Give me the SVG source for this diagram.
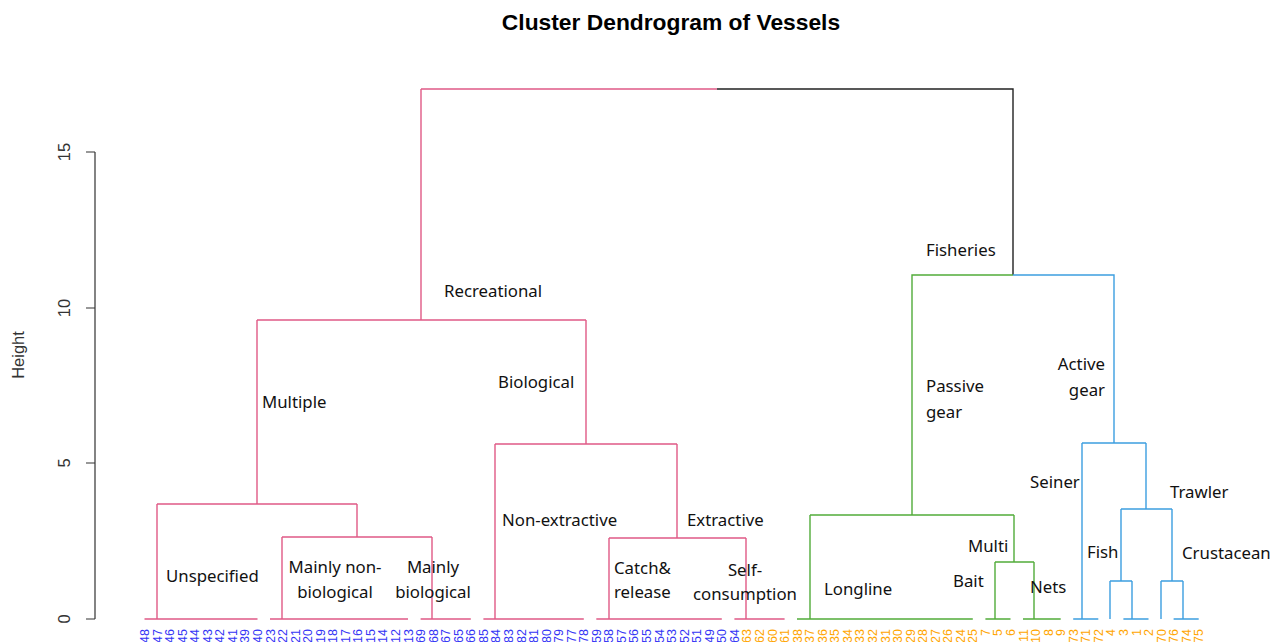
<svg xmlns="http://www.w3.org/2000/svg" width="1275" height="642" viewBox="0 0 1275 642">
<style>
.pk{stroke:#E05A86;stroke-width:1.4;fill:none}
.gn{stroke:#52AC3A;stroke-width:1.4;fill:none}
.bl{stroke:#3C9EE0;stroke-width:1.4;fill:none}
.bk{stroke:#222;stroke-width:1.4;fill:none}
.ax{stroke:#333;stroke-width:1.2;fill:none}
.tk{font-family:"Liberation Sans",Arial,sans-serif;font-size:16.5px;fill:#333;text-anchor:middle}
.lb{font-family:"Noto Sans","Open Sans",sans-serif;font-size:16.8px;fill:#111}
.lc{text-anchor:middle}
.le{text-anchor:end}
.lf{font-family:"Liberation Sans",Arial,sans-serif;font-size:12.5px;text-anchor:end}
.lfb{fill:#3535F5}
.lfo{fill:#FFA500}
</style>
<rect width="1275" height="642" fill="#fff"/>
<g id="title"><text x="671" y="30" font-family="Liberation Sans,Arial,sans-serif" font-size="22.8" font-weight="bold" text-anchor="middle" fill="#000">Cluster Dendrogram of Vessels</text></g>
<g id="axis">
<path class="ax" d="M95,152V619M86,152H95M86,308H95M86,463H95M86,619H95"/>
<text class="tk" transform="translate(70,619) rotate(-90)">0</text>
<text class="tk" transform="translate(70,463) rotate(-90)">5</text>
<text class="tk" transform="translate(70,308) rotate(-90)">10</text>
<text class="tk" transform="translate(70,152) rotate(-90)">15</text>
<text class="tk" transform="translate(24,355) rotate(-90)">Height</text>
</g>
<g id="connectors">
<path class="pk" d="M144.5,619H257.5M270,619H408M420.6,619H470.8M483.4,619H583.8M596.3,619H721.8M734.4,619H784.6"/>
<path class="pk" d="M157,619V504M282,619V537M432,619V537M282,537H432M357,537V504M157,504H357M257,504V320"/>
<path class="pk" d="M495,619V444M609,619V538M746,619V538M609,538H746M677,538V444M495,444H677M586,444V320"/>
<path class="pk" d="M257,320H586M421,320V89M421,89H717"/>
<path class="bk" d="M717,89H1013V275"/>
<path class="gn" d="M797,619H972.8M985.4,619H1010.5M1023,619H1060.7"/>
<path class="gn" d="M1013,275H912V515M810,515H1014M810,619V515M1014,515V562M995,562H1034M995,619V562M1034,619V562"/>
<path class="bl" d="M1073.2,619H1098.3M1123.4,619H1148.5M1173.6,619H1198.7"/>
<path class="bl" d="M1013,275H1114V443M1082,443H1146M1082,619V443M1146,443V509M1121,509H1172M1121,509V581M1172,509V581M1110,581H1132M1110,619V581M1132,619V581M1161,581H1183M1161,619V581M1183,619V581"/>
</g>
<g id="n-recreational"><text class="lb" x="444" y="297">Recreational</text></g>
<g id="n-fisheries"><text class="lb" x="926" y="256">Fisheries</text></g>
<g id="n-multiple"><text class="lb" x="262" y="408">Multiple</text></g>
<g id="n-biological"><text class="lb" x="498" y="388">Biological</text></g>
<g id="n-passive"><text class="lb" x="926" y="392">Passive</text><text class="lb" x="926" y="418">gear</text></g>
<g id="n-active"><text class="lb le" x="1105" y="370">Active</text><text class="lb le" x="1105" y="396">gear</text></g>
<g id="n-seiner"><text class="lb" x="1030" y="488">Seiner</text></g>
<g id="n-trawler"><text class="lb" x="1170" y="498">Trawler</text></g>
<g id="n-unspecified"><text class="lb" x="166" y="582">Unspecified</text></g>
<g id="n-mainly-nonbio"><text class="lb lc" x="335" y="573">Mainly non-</text><text class="lb lc" x="335" y="598">biological</text></g>
<g id="n-mainly-bio"><text class="lb lc" x="433" y="573">Mainly</text><text class="lb lc" x="433" y="598">biological</text></g>
<g id="n-nonextractive"><text class="lb" x="502" y="526">Non-extractive</text></g>
<g id="n-extractive"><text class="lb" x="687" y="526">Extractive</text></g>
<g id="n-catch"><text class="lb" x="614" y="574">Catch&amp;</text><text class="lb" x="614" y="598">release</text></g>
<g id="n-self"><text class="lb lc" x="745" y="576">Self-</text><text class="lb lc" x="745" y="600">consumption</text></g>
<g id="n-longline"><text class="lb" x="824" y="595">Longline</text></g>
<g id="n-multi"><text class="lb" x="968" y="552">Multi</text></g>
<g id="n-bait"><text class="lb" x="953" y="587">Bait</text></g>
<g id="n-nets"><text class="lb" x="1030" y="593">Nets</text></g>
<g id="n-fish"><text class="lb" x="1087" y="558">Fish</text></g>
<g id="n-crustacean"><text class="lb" x="1182" y="559">Crustacean</text></g>
<g id="leaves">
<text class="lf lfb" transform="translate(149,629) rotate(-90)">48</text>
<text class="lf lfb" transform="translate(161.5,629) rotate(-90)">47</text>
<text class="lf lfb" transform="translate(174.1,629) rotate(-90)">46</text>
<text class="lf lfb" transform="translate(186.6,629) rotate(-90)">45</text>
<text class="lf lfb" transform="translate(199.2,629) rotate(-90)">44</text>
<text class="lf lfb" transform="translate(211.7,629) rotate(-90)">43</text>
<text class="lf lfb" transform="translate(224.3,629) rotate(-90)">42</text>
<text class="lf lfb" transform="translate(236.8,629) rotate(-90)">41</text>
<text class="lf lfb" transform="translate(249.4,629) rotate(-90)">39</text>
<text class="lf lfb" transform="translate(261.9,629) rotate(-90)">40</text>
<text class="lf lfb" transform="translate(274.5,629) rotate(-90)">23</text>
<text class="lf lfb" transform="translate(287.0,629) rotate(-90)">22</text>
<text class="lf lfb" transform="translate(299.6,629) rotate(-90)">21</text>
<text class="lf lfb" transform="translate(312.1,629) rotate(-90)">20</text>
<text class="lf lfb" transform="translate(324.7,629) rotate(-90)">19</text>
<text class="lf lfb" transform="translate(337.2,629) rotate(-90)">18</text>
<text class="lf lfb" transform="translate(349.8,629) rotate(-90)">17</text>
<text class="lf lfb" transform="translate(362.3,629) rotate(-90)">16</text>
<text class="lf lfb" transform="translate(374.9,629) rotate(-90)">15</text>
<text class="lf lfb" transform="translate(387.4,629) rotate(-90)">14</text>
<text class="lf lfb" transform="translate(400.0,629) rotate(-90)">12</text>
<text class="lf lfb" transform="translate(412.5,629) rotate(-90)">13</text>
<text class="lf lfb" transform="translate(425.1,629) rotate(-90)">69</text>
<text class="lf lfb" transform="translate(437.6,629) rotate(-90)">68</text>
<text class="lf lfb" transform="translate(450.2,629) rotate(-90)">67</text>
<text class="lf lfb" transform="translate(462.7,629) rotate(-90)">65</text>
<text class="lf lfb" transform="translate(475.3,629) rotate(-90)">66</text>
<text class="lf lfb" transform="translate(487.8,629) rotate(-90)">85</text>
<text class="lf lfb" transform="translate(500.4,629) rotate(-90)">84</text>
<text class="lf lfb" transform="translate(512.9,629) rotate(-90)">83</text>
<text class="lf lfb" transform="translate(525.5,629) rotate(-90)">82</text>
<text class="lf lfb" transform="translate(538.0,629) rotate(-90)">81</text>
<text class="lf lfb" transform="translate(550.6,629) rotate(-90)">80</text>
<text class="lf lfb" transform="translate(563.1,629) rotate(-90)">79</text>
<text class="lf lfb" transform="translate(575.7,629) rotate(-90)">77</text>
<text class="lf lfb" transform="translate(588.2,629) rotate(-90)">78</text>
<text class="lf lfb" transform="translate(600.8,629) rotate(-90)">59</text>
<text class="lf lfb" transform="translate(613.3,629) rotate(-90)">58</text>
<text class="lf lfb" transform="translate(625.9,629) rotate(-90)">57</text>
<text class="lf lfb" transform="translate(638.4,629) rotate(-90)">56</text>
<text class="lf lfb" transform="translate(651.0,629) rotate(-90)">55</text>
<text class="lf lfb" transform="translate(663.5,629) rotate(-90)">54</text>
<text class="lf lfb" transform="translate(676.1,629) rotate(-90)">53</text>
<text class="lf lfb" transform="translate(688.6,629) rotate(-90)">52</text>
<text class="lf lfb" transform="translate(701.2,629) rotate(-90)">51</text>
<text class="lf lfb" transform="translate(713.7,629) rotate(-90)">49</text>
<text class="lf lfb" transform="translate(726.3,629) rotate(-90)">50</text>
<text class="lf lfb" transform="translate(738.9,629) rotate(-90)">64</text>
<text class="lf lfo" transform="translate(751.4,629) rotate(-90)">63</text>
<text class="lf lfo" transform="translate(764.0,629) rotate(-90)">62</text>
<text class="lf lfo" transform="translate(776.5,629) rotate(-90)">60</text>
<text class="lf lfo" transform="translate(789.1,629) rotate(-90)">61</text>
<text class="lf lfo" transform="translate(801.6,629) rotate(-90)">38</text>
<text class="lf lfo" transform="translate(814.2,629) rotate(-90)">37</text>
<text class="lf lfo" transform="translate(826.7,629) rotate(-90)">36</text>
<text class="lf lfo" transform="translate(839.3,629) rotate(-90)">35</text>
<text class="lf lfo" transform="translate(851.8,629) rotate(-90)">34</text>
<text class="lf lfo" transform="translate(864.4,629) rotate(-90)">33</text>
<text class="lf lfo" transform="translate(876.9,629) rotate(-90)">32</text>
<text class="lf lfo" transform="translate(889.5,629) rotate(-90)">31</text>
<text class="lf lfo" transform="translate(902.0,629) rotate(-90)">30</text>
<text class="lf lfo" transform="translate(914.6,629) rotate(-90)">29</text>
<text class="lf lfo" transform="translate(927.1,629) rotate(-90)">28</text>
<text class="lf lfo" transform="translate(939.7,629) rotate(-90)">27</text>
<text class="lf lfo" transform="translate(952.2,629) rotate(-90)">26</text>
<text class="lf lfo" transform="translate(964.8,629) rotate(-90)">24</text>
<text class="lf lfo" transform="translate(977.3,629) rotate(-90)">25</text>
<text class="lf lfo" transform="translate(989.9,629) rotate(-90)">7</text>
<text class="lf lfo" transform="translate(1002.4,629) rotate(-90)">5</text>
<text class="lf lfo" transform="translate(1015.0,629) rotate(-90)">6</text>
<text class="lf lfo" transform="translate(1027.5,629) rotate(-90)">11</text>
<text class="lf lfo" transform="translate(1040.1,629) rotate(-90)">10</text>
<text class="lf lfo" transform="translate(1052.6,629) rotate(-90)">8</text>
<text class="lf lfo" transform="translate(1065.2,629) rotate(-90)">9</text>
<text class="lf lfo" transform="translate(1077.7,629) rotate(-90)">73</text>
<text class="lf lfo" transform="translate(1090.3,629) rotate(-90)">71</text>
<text class="lf lfo" transform="translate(1102.8,629) rotate(-90)">72</text>
<text class="lf lfo" transform="translate(1115.4,629) rotate(-90)">4</text>
<text class="lf lfo" transform="translate(1127.9,629) rotate(-90)">3</text>
<text class="lf lfo" transform="translate(1140.5,629) rotate(-90)">1</text>
<text class="lf lfo" transform="translate(1153.0,629) rotate(-90)">2</text>
<text class="lf lfo" transform="translate(1165.6,629) rotate(-90)">70</text>
<text class="lf lfo" transform="translate(1178.1,629) rotate(-90)">76</text>
<text class="lf lfo" transform="translate(1190.7,629) rotate(-90)">74</text>
<text class="lf lfo" transform="translate(1203.2,629) rotate(-90)">75</text>
</g>
</svg>
